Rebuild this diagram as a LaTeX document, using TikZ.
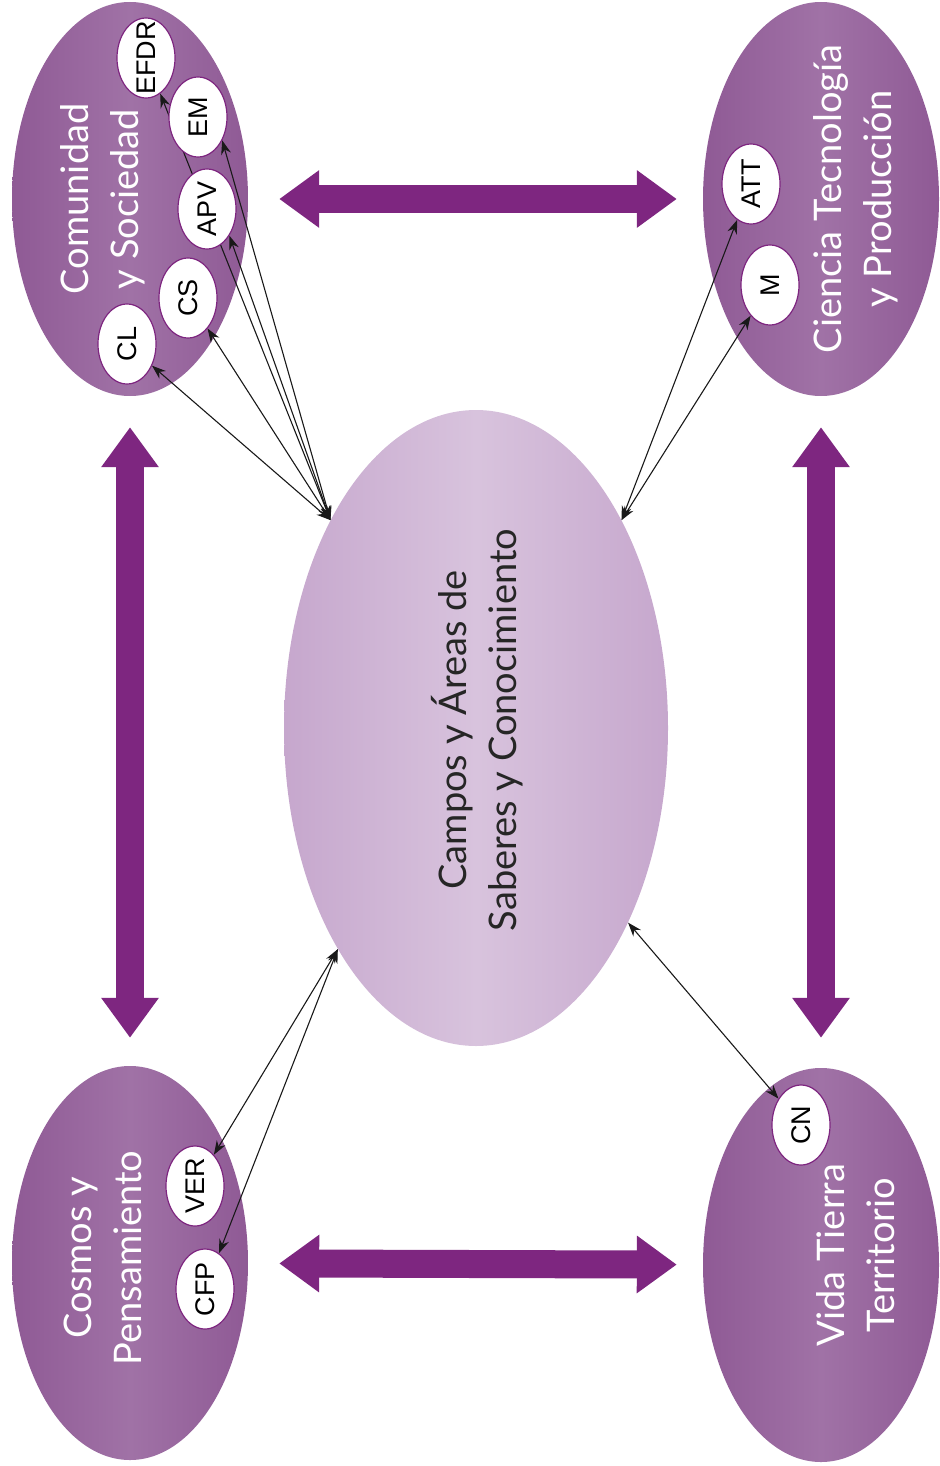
\documentclass[tikz,border=0pt]{standalone}
\usepackage{fontspec}
\setmainfont{Lato}
\newfontfamily\arialfont{Liberation Sans}
\usetikzlibrary{arrows.meta, positioning, shapes.geometric}
\pgfdeclarelayer{back}
\pgfdeclarelayer{links}
\pgfsetlayers{back,links,main}
\definecolor{arrowpurple}{RGB}{126,38,128}
\definecolor{fieldpurple}{RGB}{143,90,149}
\definecolor{fieldlight}{RGB}{160,114,166}
\definecolor{centrelav}{RGB}{198,167,205}
\definecolor{centrelight}{RGB}{216,195,221}

\begin{document}
\begin{tikzpicture}[x=1pt, y=-1pt]
\tikzset{field/.style={ellipse, minimum width=236pt, minimum height=394pt, inner sep=0pt, left color=fieldpurple, right color=fieldpurple, middle color=fieldlight},
		fieldtext/.style={rotate=90, align=center, text=white, font=\fontsize{38}{50}\selectfont},
		area/.style={ellipse, rotate=90, minimum width=80pt, minimum height=58pt, inner xsep=-10pt, inner ysep=0pt, fill=white, draw=arrowpurple, line width=1.2pt, font=\arialfont\fontsize{27}{27}\selectfont},
		link/.style={{Stealth[length=14pt,width=10pt]}-{Stealth[length=14pt,width=10pt]}, line width=1.1pt, draw=black!90},
		bigarrow/.style={line width=28pt, draw=arrowpurple, {Triangle[width=55pt,length=40pt]}-{Triangle[width=55pt,length=40pt]}}}
\useasboundingbox (0,0) rectangle (939,1466);
\begin{pgfonlayer}{back}
\node[field] (CyS) at (130,199) {};
\node[field] (CTyP) at (821,199) {};
\node[field] (CyP) at (130,1263) {};
\node[field] (VTT) at (821,1265) {};
\node[ellipse, minimum width=384pt, minimum height=636pt, left color=centrelav, right color=centrelav, middle color=centrelight] (CAS) at (476,728) {};
\node[fieldtext] (CySt) at (103,199) {Comunidad\\y Sociedad};
\node[fieldtext] (CTyPt) at (856,199) {Ciencia Tecnología\\y Producción};
\node[fieldtext] (CyPt) at (103,1258) {Cosmos y\\Pensamiento};
\node[fieldtext] (VTTt) at (856,1255) {Vida Tierra\\Territorio};
\node[fieldtext, text=black!85] (CASt) at (477,730) {Campos y Áreas de\\Saberes y Conocimiento};
\draw[bigarrow, shorten <=31pt, shorten >=26pt] (CyS) -- (CTyP);
\draw[bigarrow, shorten <=31pt, shorten >=26pt] (CyP) -- (VTT);
\draw[bigarrow, shorten <=31pt, shorten >=28pt] (CyS) -- (CyP);
\draw[bigarrow, shorten <=31pt, shorten >=30pt] (CTyP) -- (VTT);
\end{pgfonlayer}
% areas
\node[area] (EFDR) at (146,58) {EFDR};
\node[area] (EM) at (198,117) {EM};
\node[area] (APV) at (207,209) {APV};
\node[area] (CS) at (188,298) {CS};
\node[area] (CL) at (127,344) {CL};
\node[area] (ATT) at (751,184) {ATT};
\node[area] (M) at (770,285) {M};
\node[area] (VER) at (195,1186) {VER};
\node[area] (CFP) at (205,1289) {CFP};
\node[area] (CN) at (801,1125) {CN};
\begin{pgfonlayer}{links}
\foreach \n in {CL,CS,EFDR} \draw[link] (CAS.125) -- (\n);
\draw[link] (CAS.125) -- (APV.220);
\draw[link] (CAS.125) -- (EM.226);
\foreach \n in {ATT,M} \draw[link] (CAS.55) -- (\n);
\foreach \n in {VER,CFP} \draw[link] (CAS.238) -- (\n);
\draw[link] (CAS.308) -- (CN);
\end{pgfonlayer}
\end{tikzpicture}
\end{document}
